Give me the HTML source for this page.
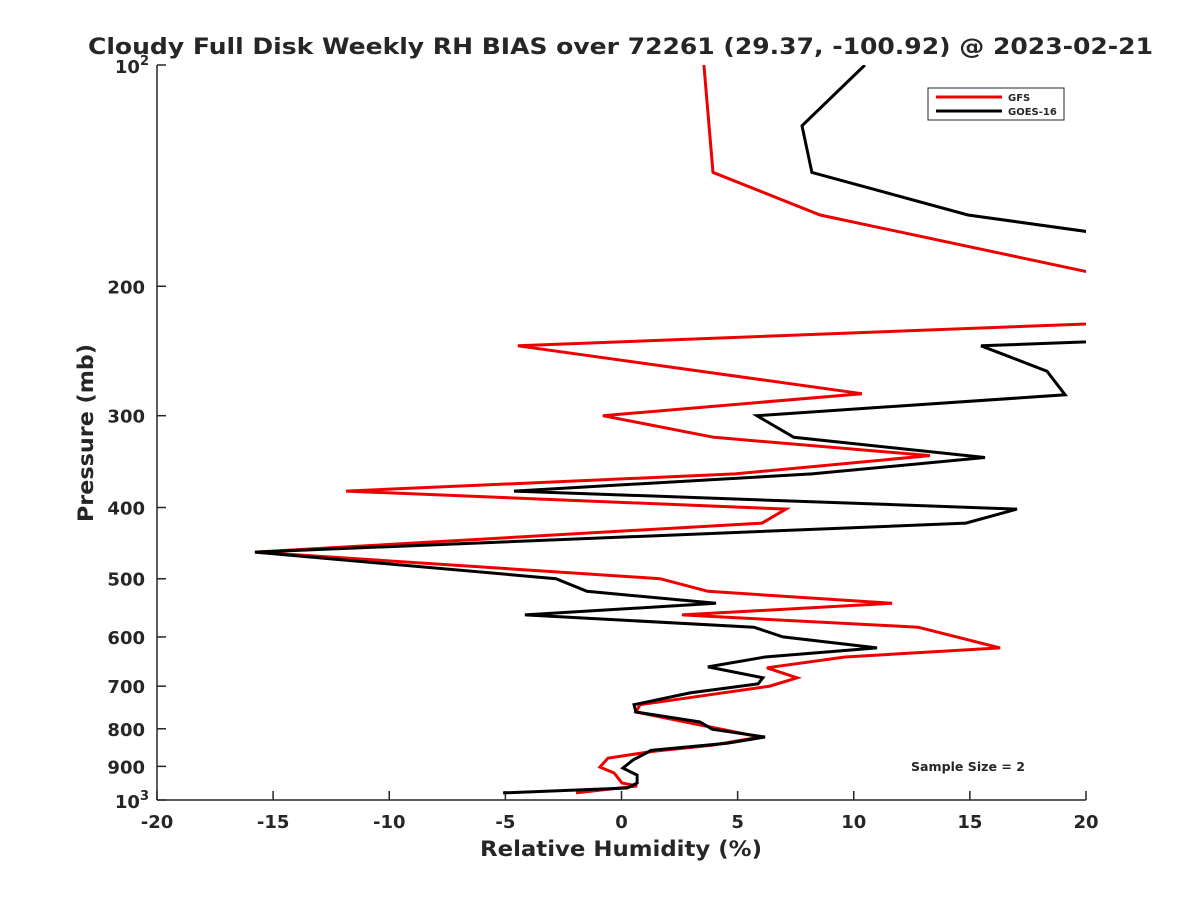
<!DOCTYPE html>
<html><head><meta charset="utf-8"><style>
body{margin:0;background:#fff;}
svg text{font-family:"DejaVu Sans","Liberation Sans",sans-serif;font-weight:bold;fill:#262626;}
</style></head><body>
<svg id="chart" width="1200" height="900">
<defs><clipPath id="plotclip"><rect x="157" y="65" width="929" height="735"/></clipPath></defs>
<text x="88" y="54" font-size="22" fill="#000" textLength="1065" lengthAdjust="spacingAndGlyphs">Cloudy Full Disk Weekly RH BIAS over 72261 (29.37, -100.92) @ 2023-02-21</text>
<g id="axes"></g>
<g id="series" clip-path="url(#plotclip)"></g>
<g>
<rect x="928" y="88" width="136" height="32" fill="#fff" stroke="#262626" stroke-width="1"/>
<line x1="936" y1="97" x2="1002" y2="97" stroke="#e00" stroke-width="3"/>
<text x="1008" y="101" font-size="10">GFS</text>
<line x1="936" y1="111" x2="1002" y2="111" stroke="#000" stroke-width="3"/>
<text x="1008" y="115" font-size="10">GOES-16</text>
</g>
<text x="911" y="771" font-size="12" fill="#000" textLength="114" lengthAdjust="spacingAndGlyphs">Sample Size = 2</text>
<text x="480" y="856" font-size="21" textLength="282" lengthAdjust="spacingAndGlyphs">Relative Humidity (%)</text>
<text x="93" y="433" text-anchor="middle" font-size="21" textLength="178" lengthAdjust="spacingAndGlyphs" transform="rotate(-90 93 433)">Pressure (mb)</text>
</svg>
<script>
const xTicks=[-20,-15,-10,-5,0,5,10,15,20];
const yTicks=[100,200,300,400,500,600,700,800,900,1000];
const yTickLabels=["","200","300","400","500","600","700","800","900",""];
const gfsP=[100,140,160,206,222,241,280,300,321,340,360,380,402,420,460,500,520,540,560,582,621,639,661,682,700,742,759,821,842,858,877,902,919,948,957,978];
const gfsRH=[3.55,3.94,8.55,24.91,24.91,-4.46,10.35,-0.80,3.98,13.28,4.89,-11.86,7.08,6.05,-15.78,1.66,3.72,11.65,2.60,12.77,16.30,9.62,6.26,7.56,6.39,0.80,0.62,5.96,3.94,1.44,-0.58,-0.93,-0.32,0.02,0.67,-1.96];
const goesP=[100,121,140,160,177,235,241,261,281,300,321,342,360,380,402,420,460,500,520,540,560,582,600,621,639,659,682,695,715,742,759,783,801,821,837,856,882,905,925,948,963,978];
const goesRH=[10.48,7.77,8.20,14.92,24.91,24.91,15.48,18.32,19.10,5.83,7.42,15.65,8.20,-4.63,17.03,14.83,-15.78,-2.82,-1.49,4.07,-4.16,5.70,6.95,11.00,6.18,3.72,6.09,5.88,2.95,0.54,0.62,3.38,3.90,6.18,4.54,1.27,0.50,0.06,0.67,0.67,0.24,-5.10];

const NS="http://www.w3.org/2000/svg";
const L=157,R=1086,T=65,B=800;
function xs(v){return L+(v+20)/40*(R-L);}
function ys(p){return T+Math.log10(p/100)*(B-T);}
function mk(tag,attrs,parent){const e=document.createElementNS(NS,tag);for(const k in attrs)e.setAttribute(k,attrs[k]);parent.appendChild(e);return e;}
const axes=document.getElementById('axes');
let a=mk('line',{x1:L,y1:T,x2:L,y2:B,stroke:'#262626','stroke-width':1.5},axes);


a=mk('line',{x1:L,y1:B,x2:R,y2:B,stroke:'#262626','stroke-width':1.5},axes);


xTicks.forEach(v=>{
  const x=xs(v);
  mk('line',{x1:x,y1:B,x2:x,y2:B-9,stroke:'#262626','stroke-width':1.5},axes);
  const t=mk('text',{x:x,y:B+28,'text-anchor':'middle','font-size':18},axes);
  t.textContent=String(v);
  
  
});
yTicks.forEach((p,i)=>{
  const y=ys(p);
  mk('line',{x1:L,y1:y,x2:L+9,y2:y,stroke:'#262626','stroke-width':1.5},axes);
  if(yTickLabels[i]){
    const t=mk('text',{x:L-12,y:y+7,'text-anchor':'end','font-size':18},axes);
    t.textContent=yTickLabels[i];
    
    
  }
});
[[100,'2'],[1000,'3']].forEach(([p,e])=>{
  const y=ys(p);
  const t=mk('text',{x:L-8,y:y+8,'text-anchor':'end','font-size':18},axes);
  t.innerHTML='10<tspan dy="-8" font-size="13">'+e+'</tspan>';
  
  
});
const series=document.getElementById('series');
function line(P,RH,color,name){
  const pts=P.map((p,i)=>xs(RH[i]).toFixed(1)+','+ys(p).toFixed(1)).join(' ');
  const pl=mk('polyline',{points:pts,fill:'none',stroke:color,'stroke-width':3,'stroke-linejoin':'miter'},series);
  
  
}
line(gfsP,gfsRH,'#e00','gfs-line');
line(goesP,goesRH,'#000','goes16-line');
</script>
</body></html>
